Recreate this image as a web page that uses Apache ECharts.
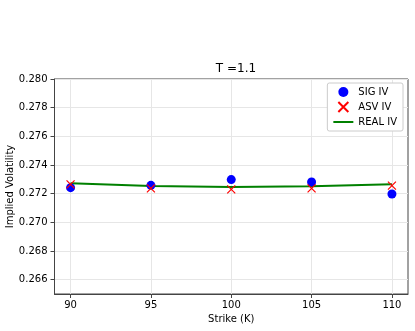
<!DOCTYPE html>
<html style="height: 100%">
<head>
<meta charset="utf-8">
<script src="https://cdn.jsdelivr.net/npm/echarts@6/dist/echarts.min.js"></script>
</head>
<body style="height: 100%; margin: 0; background: #fff">
<div id="container" style="width: 415px; height: 331px"></div>
<script>
// strikes and implied vols
var strikes = [90, 95, 100, 105, 110];
var sigIV = [0.27242, 0.27258, 0.27298, 0.27281, 0.27198];
var asvIV = [0.27265, 0.27237, 0.27230, 0.27237, 0.27256];
var realIV = [0.27273, 0.27254, 0.27247, 0.27251, 0.27265];
var xTicks = [90, 95, 100, 105, 110];
var yTicks = [0.266, 0.268, 0.270, 0.272, 0.274, 0.276, 0.278, 0.280];

var pairs = function (ys) {
    return strikes.map(function (x, i) { return [x, ys[i]]; });
};

var font = 'DejaVu Sans';
var crossPath = 'path://M0,0 L10,10 M10,0 L0,10';
var linePath = 'path://M0,0 L20,0 L20,2 L0,2 Z';

var chart = echarts.init(document.getElementById('container'));
var option = {
    backgroundColor: '#fff',
    animation: false,
    title: {
        text: 'T =1.1',
        left: 231, top: 58, textAlign: 'center',
        textStyle: { fontFamily: font, fontSize: 12, fontWeight: 'normal', color: '#000' }
    },
    legend: {
        orient: 'vertical',
        right: 12, top: 83,
        backgroundColor: '#fff',
        borderColor: '#ccc', borderWidth: 1, borderRadius: 2,
        padding: [4, 6, 4, 6],
        itemGap: 4,
        itemWidth: 20, itemHeight: 10,
        textStyle: { fontFamily: font, fontSize: 10, color: '#000' },
        data: [
            { name: 'SIG IV', icon: 'circle' },
            { name: 'ASV IV', icon: crossPath },
            { name: 'REAL IV', icon: linePath }
        ]
    },
    grid: {
        left: 54.5, right: 7, top: 79, bottom: 37,
        outerBoundsMode: 'none', containLabel: false,
        show: true, borderColor: '#444', borderWidth: 1
    },
    xAxis: {
        type: 'value', min: 89, max: 111,
        name: 'Strike (K)', nameLocation: 'middle', nameGap: 20,
        nameTextStyle: { fontFamily: font, fontSize: 10, color: '#000' },
        axisLine: { lineStyle: { color: '#444' } },
        axisTick: { customValues: xTicks, length: 4, lineStyle: { color: '#444' } },
        axisLabel: { customValues: xTicks, fontFamily: font, fontSize: 10, color: '#000', margin: 6 },
        splitLine: { show: true, lineStyle: { color: '#e6e6e6' } }
    },
    yAxis: {
        type: 'value', min: 0.265, max: 0.280,
        name: 'Implied Volatility', nameLocation: 'middle', nameGap: 39,
        nameMoveOverlap: false,
        nameTextStyle: { fontFamily: font, fontSize: 10, color: '#000' },
        axisLine: { lineStyle: { color: '#444' } },
        axisTick: { customValues: yTicks, length: 4, lineStyle: { color: '#444' } },
        axisLabel: {
            customValues: yTicks, fontFamily: font, fontSize: 10, color: '#000', margin: 7,
            formatter: function (v) { return v.toFixed(3); }
        },
        splitLine: { show: true, lineStyle: { color: '#e6e6e6' } }
    },
    series: [
        {
            name: 'REAL IV', type: 'line', data: pairs(realIV),
            symbol: 'none', z: 2,
            lineStyle: { color: '#008000', width: 2 },
            itemStyle: { color: '#008000' }
        },
        {
            name: 'SIG IV', type: 'scatter', data: pairs(sigIV),
            symbol: 'circle', symbolSize: 9, z: 3,
            itemStyle: { color: '#0000ff', opacity: 1 }
        },
        {
            name: 'ASV IV', type: 'scatter', data: pairs(asvIV),
            symbol: crossPath, symbolSize: 8, z: 4,
            itemStyle: { color: '#ff0000', borderColor: '#ff0000', borderWidth: 1.2, opacity: 1 }
        }
    ]
};
chart.setOption(option);
</script>
</body>
</html>
